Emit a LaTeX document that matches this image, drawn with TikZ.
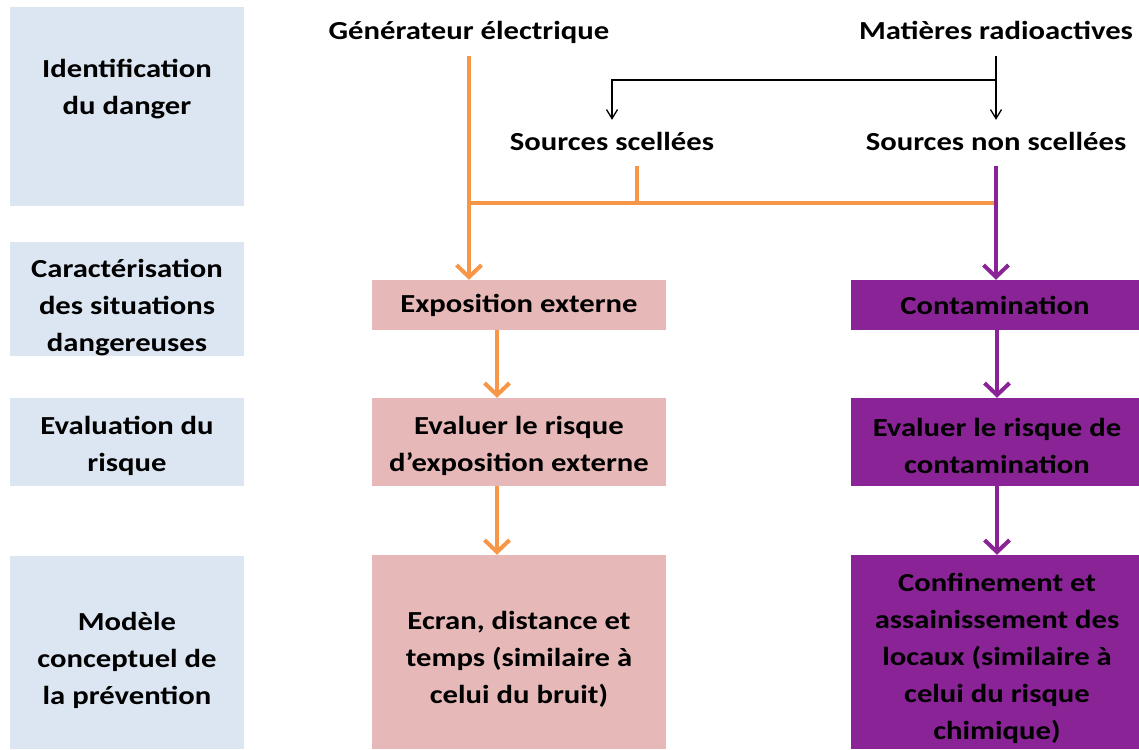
\documentclass[tikz,border=0pt]{standalone}
\usepackage{fontspec}
\setmainfont{Carlito}[FakeStretch=1.18]
\usetikzlibrary{arrows.meta}
\definecolor{phaseblue}{HTML}{DCE6F2}
\definecolor{expopink}{HTML}{E6B9B8}
\definecolor{contampurple}{HTML}{8A2396}
\definecolor{flechorange}{HTML}{F79646}

\begin{document}
\begin{tikzpicture}[x=1pt,y=-1pt,
    every node/.style={font=\fontsize{26}{37}\selectfont\bfseries, align=center},
    phase/.style={fill=phaseblue, minimum width=234pt, inner sep=0pt},
    expobox/.style={fill=expopink, minimum width=294pt, inner sep=0pt},
    contambox/.style={fill=contampurple, minimum width=288pt, inner sep=0pt},
    source/.style={anchor=base, inner xsep=4pt, inner ysep=10pt, text height=20pt, text depth=6pt},
    thinarrow/.style={line width=1.3pt, -{Straight Barb[length=9pt,width=11pt]}},
    orangeline/.style={draw=flechorange, line width=4pt},
    orangearrow/.style={orangeline, -{Straight Barb[length=12pt,width=25pt]}},
    purplearrow/.style={draw=contampurple, line width=4pt, -{Straight Barb[length=12pt,width=25pt]}}]
    \useasboundingbox (0,0) rectangle (1139,749);

    % phases
    \node[phase, minimum height=199pt] (identif) at (127,106.5) {};
    \node (identiftxt) at (127,89) {Identification\\du danger};
    \node[phase, minimum height=114pt] (caract) at (127,299) {};
    \node (caracttxt) at (127,308) {Caractérisation\\des situations\\dangereuses};
    \node[phase, minimum height=88pt] (evaluation) at (127,442) {};
    \node (evaluationtxt) at (127,446) {Evaluation du\\risque};
    \node[phase, minimum height=193pt] (modele) at (127,652.5) {};
    \node (modeletxt) at (127,660) {Modèle\\conceptuel de\\la prévention};

    % sources
    \node[source] (generateur) at (469,40) {Générateur électrique};
    \node[source] (matieres) at (996,40) {Matières radioactives};
    \node[source] (scellees) at (612,150) {Sources scellées};
    \node[source] (nonscellees) at (996,150) {Sources non scellées};

    % exposition externe
    \node[expobox, minimum height=50pt] (expo) at (519,305) {Exposition externe};
    \node[expobox, minimum height=88pt] (evalexpo) at (519,442) {};
    \node (evalexpotxt) at (519,446) {Evaluer le risque\\d’exposition externe};
    \node[expobox, minimum height=194pt] (prevexpo) at (519,652) {};
    \node (prevexpotxt) at (519,659) {Ecran, distance et\\temps (similaire à\\celui du bruit)};

    % contamination
    \node[contambox, minimum height=50pt] (contam) at (995,305) {Contamination};
    \node[contambox, minimum height=88pt] (evalcontam) at (995,442) {};
    \node (evalcontamtxt) at (997,446) {Evaluer le risque de\\contamination};
    \node[contambox, minimum height=194pt] (prevcontam) at (995,652) {};
    \node (prevcontamtxt) at (997,658) {Confinement et\\assainissement des\\locaux (similaire à\\celui du risque\\chimique)};

    \coordinate (split) at (0,80);
    \coordinate (bar) at (0,203);
    \coordinate (stub) at (637,203);

    \draw[thinarrow] (matieres.south) -- (matieres.south |- nonscellees.north);
    \draw[thinarrow] (split -| matieres.south) -- (split -| scellees.north) -- (scellees.north);

    \draw[orangearrow] (generateur.south) -- (generateur.south |- expo.north);
    \draw[orangeline] (bar -| generateur.south) -- (bar -| nonscellees.south);
    \draw[orangeline] (stub) -- (stub |- scellees.south);
    \draw[purplearrow] (nonscellees.south) -- (nonscellees.south |- contam.north);

    \draw[orangearrow] ([xshift=-22pt]expo.south) -- ([xshift=-22pt]evalexpo.north);
    \draw[orangearrow] ([xshift=-22pt]evalexpo.south) -- ([xshift=-22pt]prevexpo.north);
    \draw[purplearrow] ([xshift=2pt]contam.south) -- ([xshift=2pt]evalcontam.north);
    \draw[purplearrow] ([xshift=2pt]evalcontam.south) -- ([xshift=2pt]prevcontam.north);
  \end{tikzpicture}
\end{document}
